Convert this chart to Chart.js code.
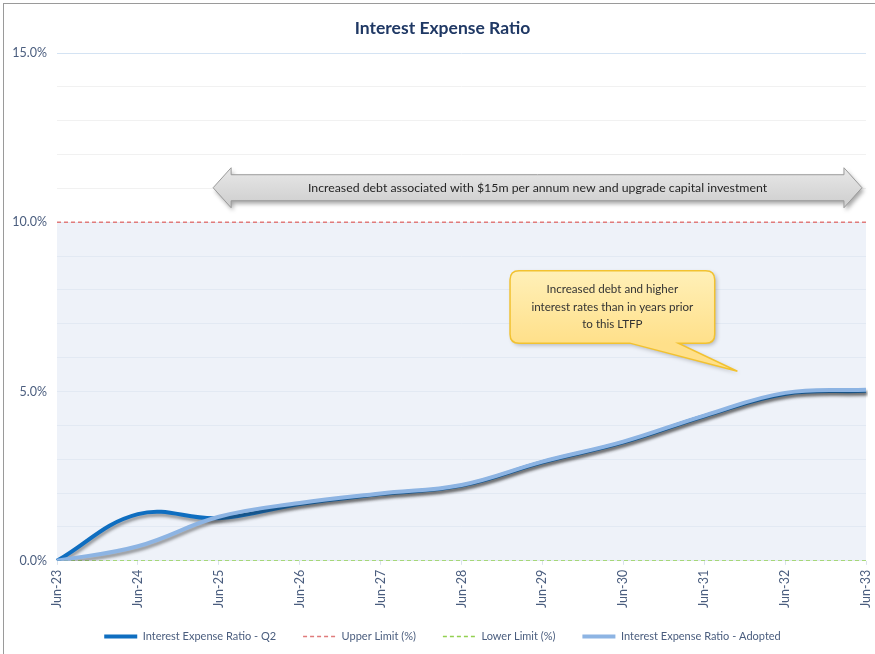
<!DOCTYPE html>
<html>
<head>
<meta charset="utf-8">
<script src="https://cdn.jsdelivr.net/npm/chart.js@4.4.1/dist/chart.umd.min.js"></script>
<style>
  html, body { margin: 0; padding: 0; background: #fff; }
  #wrap { position: relative; width: 875px; height: 654px; overflow: hidden; }
  #frame { position: absolute; left: 3px; top: 3px; width: 900px; height: 700px;
           border-left: 1.5px solid #9a9a9a; border-top: 1.5px solid #9a9a9a; }
  canvas { position: absolute; left: 0; top: 0; }
</style>
</head>
<body>
<div id="wrap">
  <div id="frame"></div>
  <canvas id="c" width="875" height="654"></canvas>
</div>
<script>
// Financial years (June balance dates)
const periods = ['Jun-23','Jun-24','Jun-25','Jun-26','Jun-27','Jun-28','Jun-29','Jun-30','Jun-31','Jun-32','Jun-33'];

// Interest expense as % of operating revenue
const ratioQ2      = [0.00, 1.38, 1.26, 1.68, 1.97, 2.22, 2.91, 3.50, 4.27, 4.93, 5.02];
const ratioAdopted = [0.00, 0.43, 1.30, 1.71, 1.99, 2.24, 2.93, 3.52, 4.29, 4.96, 5.05];
const upperLimit   = [10, 10, 10, 10, 10, 10, 10, 10, 10, 10, 10];
const lowerLimit   = [0, 0, 0, 0, 0, 0, 0, 0, 0, 0, 0];

const yTicks = [0, 5, 10, 15];

const FONT = "Lato, 'Open Sans', sans-serif";
const TEXT = '#4a5d7e';

// Light band between the lower and upper limits
const bandPlugin = {
  id: 'band',
  beforeDraw(chart) {
    const { ctx, chartArea, scales } = chart;
    const top = scales.y.getPixelForValue(10);
    const bottom = scales.y.getPixelForValue(0);
    ctx.save();
    ctx.fillStyle = '#eef2f9';
    ctx.fillRect(chartArea.left, top, chartArea.right - chartArea.left, bottom - top);
    ctx.restore();
  }
};

// Keep wide horizontal gaps between legend entries while keeping the legend strip short
const LEGEND_TRIM = 9;
const legendTrimPlugin = {
  id: 'legendTrim',
  beforeLayout(chart) {
    const lg = chart.legend;
    if (lg && !lg.__trim) {
      lg.__trim = true;
      const baseFit = lg.fit;
      lg.fit = function () { baseFit.call(this); this.height -= LEGEND_TRIM; };
    }
  },
  afterLayout(chart) {
    const lg = chart.legend;
    if (lg) { lg.top -= LEGEND_TRIM; lg.bottom -= LEGEND_TRIM; }
  }
};

// Soft drop shadow under the ratio lines
const shadowPlugin = {
  id: 'lineShadow',
  beforeDatasetDraw(chart, args) {
    const ds = chart.data.datasets[args.index];
    if (!ds.shadow) return;
    const ctx = chart.ctx;
    ctx.save();
    ctx.shadowColor = 'rgba(40,40,40,0.45)';
    ctx.shadowBlur = 3;
    ctx.shadowOffsetX = 1;
    ctx.shadowOffsetY = 3;
  },
  afterDatasetDraw(chart, args) {
    const ds = chart.data.datasets[args.index];
    if (!ds.shadow) return;
    chart.ctx.restore();
  }
};

// Commentary shapes: the double-headed arrow and the callout
const notesPlugin = {
  id: 'notes',
  afterDatasetsDraw(chart) {
    const { ctx, scales } = chart;
    const X = v => scales.x.getPixelForValue(v);
    const Y = v => scales.y.getPixelForValue(v);

    // double-headed arrow across the investment period
    const x0 = X(1.93), x1 = X(9.95), yc = Y(11.02);
    const bh = 13, hh = 20, hl = 18;
    ctx.save();
    ctx.shadowColor = 'rgba(0,0,0,0.35)';
    ctx.shadowBlur = 4;
    ctx.shadowOffsetX = 2;
    ctx.shadowOffsetY = 3;
    ctx.beginPath();
    ctx.moveTo(x0, yc);
    ctx.lineTo(x0 + hl, yc - hh);
    ctx.lineTo(x0 + hl, yc - bh);
    ctx.lineTo(x1 - hl, yc - bh);
    ctx.lineTo(x1 - hl, yc - hh);
    ctx.lineTo(x1, yc);
    ctx.lineTo(x1 - hl, yc + hh);
    ctx.lineTo(x1 - hl, yc + bh);
    ctx.lineTo(x0 + hl, yc + bh);
    ctx.lineTo(x0 + hl, yc + hh);
    ctx.closePath();
    const g = ctx.createLinearGradient(0, yc - hh, 0, yc + hh);
    g.addColorStop(0, '#e8e8e8');
    g.addColorStop(1, '#cdcdcd');
    ctx.fillStyle = g;
    ctx.fill();
    ctx.shadowColor = 'transparent';
    ctx.strokeStyle = '#9a9a9a';
    ctx.lineWidth = 1;
    ctx.stroke();
    ctx.fillStyle = '#262626';
    ctx.font = "12.3px " + FONT;
    ctx.textAlign = 'center';
    ctx.textBaseline = 'middle';
    ctx.fillText('Increased debt associated with $15m per annum new and upgrade capital investment', (x0 + x1) / 2, yc);
    ctx.restore();

    // callout bubble
    const bx0 = X(5.6), bx1 = X(8.13), by0 = Y(8.57), by1 = Y(6.43);
    const r = 9;
    const tx = X(8.41), ty = Y(5.6);
    const t0 = X(7.08), t1 = X(7.68);
    ctx.save();
    ctx.shadowColor = 'rgba(0,0,0,0.25)';
    ctx.shadowBlur = 4;
    ctx.shadowOffsetX = 2;
    ctx.shadowOffsetY = 2;
    ctx.beginPath();
    ctx.moveTo(bx0 + r, by0);
    ctx.lineTo(bx1 - r, by0);
    ctx.quadraticCurveTo(bx1, by0, bx1, by0 + r);
    ctx.lineTo(bx1, by1 - r);
    ctx.quadraticCurveTo(bx1, by1, bx1 - r, by1);
    ctx.lineTo(t1, by1);
    ctx.lineTo(tx, ty);
    ctx.lineTo(t0, by1);
    ctx.lineTo(bx0 + r, by1);
    ctx.quadraticCurveTo(bx0, by1, bx0, by1 - r);
    ctx.lineTo(bx0, by0 + r);
    ctx.quadraticCurveTo(bx0, by0, bx0 + r, by0);
    ctx.closePath();
    const cg = ctx.createLinearGradient(0, by0, 0, by1);
    cg.addColorStop(0, '#fff0b8');
    cg.addColorStop(1, '#ffe08a');
    ctx.fillStyle = cg;
    ctx.fill();
    ctx.shadowColor = 'transparent';
    ctx.strokeStyle = '#f2c230';
    ctx.lineWidth = 1.5;
    ctx.stroke();
    ctx.fillStyle = '#333333';
    ctx.font = "11.6px " + FONT;
    ctx.textAlign = 'center';
    ctx.textBaseline = 'middle';
    const cx = (bx0 + bx1) / 2, cy = (by0 + by1) / 2;
    const lines = ['Increased debt and higher', 'interest rates than in years prior', 'to this LTFP'];
    lines.forEach((s, i) => ctx.fillText(s, cx, cy + (i - 1) * 17.5));
    ctx.restore();
  }
};

new Chart(document.getElementById('c'), {
  type: 'line',
  data: {
    labels: periods,
    datasets: [
      { label: 'Interest Expense Ratio - Q2', data: ratioQ2, borderColor: '#0f6ec0', backgroundColor: '#0f6ec0',
        borderWidth: 4, tension: 0.4, pointRadius: 0, shadow: true, order: 1 },
      { label: 'Upper Limit (%)', data: upperLimit, borderColor: '#e07b7b', backgroundColor: '#e07b7b',
        borderWidth: 1.5, borderDash: [4, 3], pointRadius: 0, order: 3 },
      { label: 'Lower Limit (%)', data: lowerLimit, borderColor: '#92d050', backgroundColor: '#92d050',
        borderWidth: 1.5, borderDash: [4, 3], pointRadius: 0, order: 3 },
      { label: 'Interest Expense Ratio - Adopted', data: ratioAdopted, borderColor: '#8db4e3', backgroundColor: '#8db4e3',
        borderWidth: 4, tension: 0.4, pointRadius: 0, shadow: true, order: 0 }
    ]
  },
  options: {
    responsive: false,
    animation: false,
    layout: { padding: { left: 10, right: 0, top: 0, bottom: 2 } },
    plugins: {
      title: {
        display: true,
        text: 'Interest Expense Ratio',
        color: '#1f3864',
        font: { family: FONT, size: 17.5, weight: 'bold' },
        padding: { top: 18, bottom: 14 }
      },
      legend: {
        position: 'bottom',
        labels: {
          color: TEXT,
          font: { family: FONT, size: 11 },
          usePointStyle: true,
          pointStyle: 'line',
          pointStyleWidth: 33,
          boxHeight: 10,
          padding: 27,
          sort: (a, b) => a.datasetIndex - b.datasetIndex,
          generateLabels(chart) {
            const items = Chart.defaults.plugins.legend.labels.generateLabels(chart);
            items.forEach(it => {
              const ds = chart.data.datasets[it.datasetIndex];
              it.lineDash = ds.borderDash || [];
              it.lineWidth = ds.borderWidth;
              it.strokeStyle = ds.borderColor;
              it.pointStyle = 'line';
            });
            return items;
          }
        }
      },
      tooltip: { enabled: false }
    },
    scales: {
      x: {
        offset: false,
        afterFit(scale) { scale.paddingRight = 9; scale.paddingLeft = 0; },
        grid: { drawOnChartArea: false, color: '#d9e1ec', tickLength: 4 },
        border: { display: false },
        ticks: { color: TEXT, font: { family: FONT, size: 12.5 }, minRotation: 90, maxRotation: 90, padding: 5 }
      },
      y: {
        min: 0, max: 15,
        afterFit(scale) { scale.width = 47; },
        border: { display: false },
        grid: {
          drawTicks: false,
          color: ctx => ctx.tick.value === 15 ? '#d4e3f3' : (ctx.tick.value > 10 ? '#f1f1f1' : '#e2e9f3'),
          lineWidth: 1
        },
        ticks: {
          stepSize: 1,
          color: TEXT,
          font: { family: FONT, size: 12.5 },
          padding: 10,
          callback: v => yTicks.includes(v) ? v.toFixed(1) + '%' : ''
        }
      }
    }
  },
  plugins: [bandPlugin, legendTrimPlugin, shadowPlugin, notesPlugin]
});
</script>
</body>
</html>
